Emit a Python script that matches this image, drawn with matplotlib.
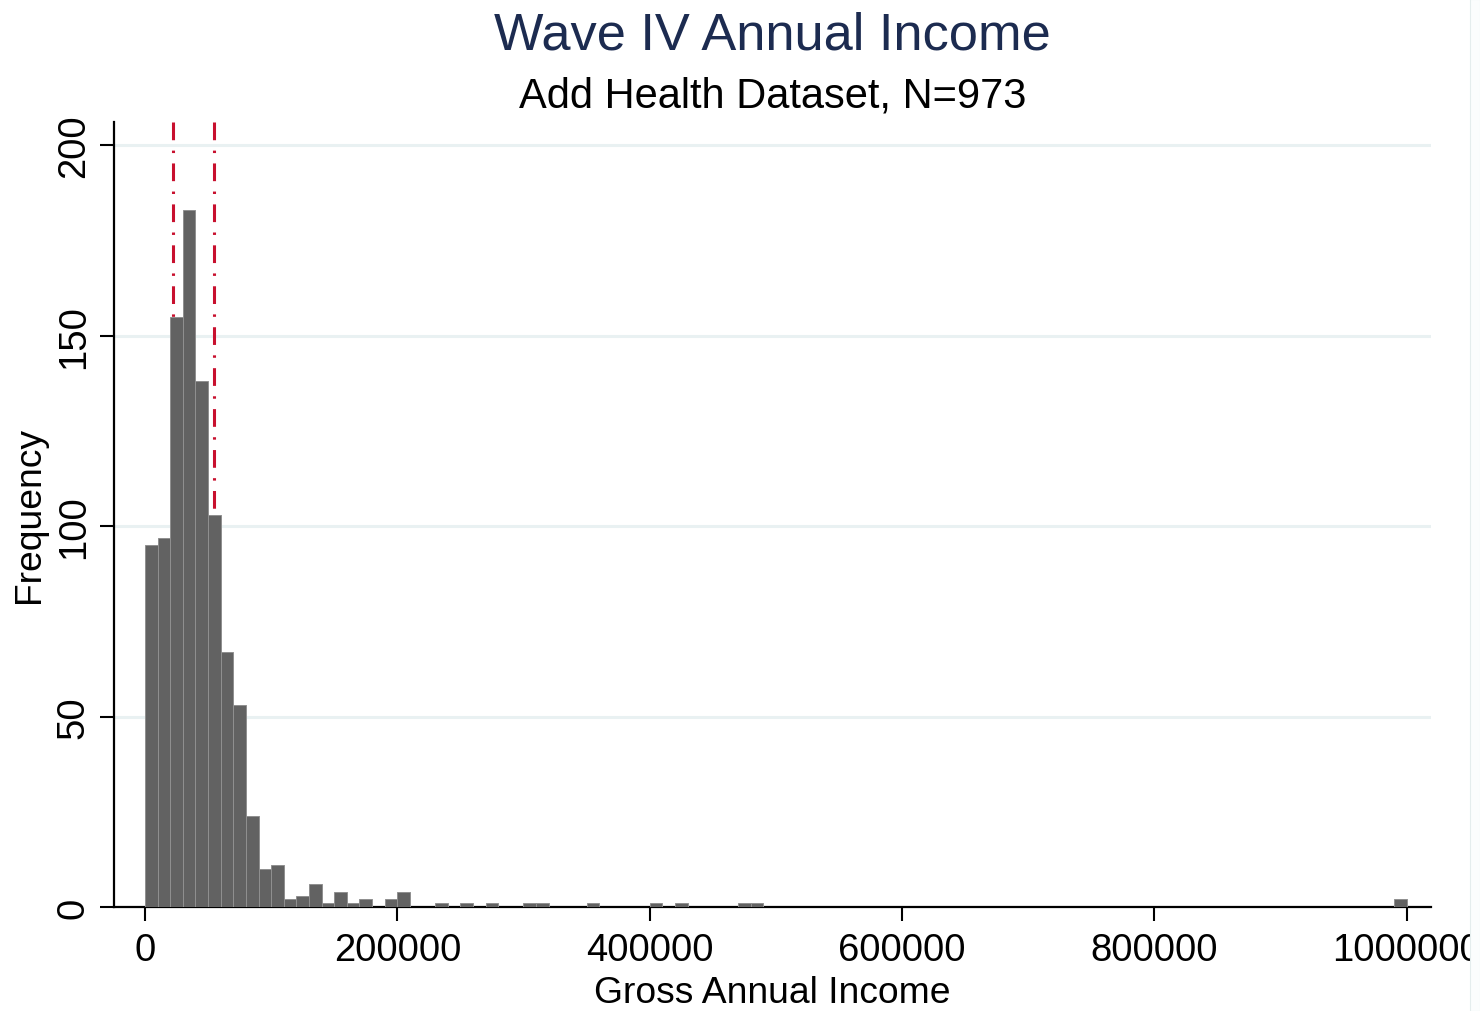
import numpy as np
import matplotlib
matplotlib.use("Agg")
import matplotlib.pyplot as plt
from matplotlib.patches import Rectangle

# Histogram of gross annual income: bins of width 10,000 (only non-empty bins listed)
bin_width = 10000
bin_index = [0, 1, 2, 3, 4, 5, 6, 7, 8, 9, 10, 11, 12, 13, 14, 15, 16, 17, 19, 20,
             23, 25, 27, 30, 31, 35, 40, 42, 47, 48, 99]
bin_counts = [95, 97, 155, 183, 138, 103, 67, 53, 24, 10, 11, 2, 3, 6, 1, 4, 1, 2, 2, 4,
              1, 1, 1, 1, 1, 1, 1, 1, 1, 1, 2]

# Reference lines (lower and upper quartile of income)
quartiles = [22500, 54500]

yticks = [0, 50, 100, 150, 200]
xticks = [0, 200000, 400000, 600000, 800000, 1000000]

plt.rcParams['font.family'] = ['Liberation Sans', 'DejaVu Sans']

fig = plt.figure(figsize=(14.8, 10.12), dpi=100)
ax = fig.add_axes([0.0770, 0.1028, 0.8899, 0.7760])

bin_starts = np.array(bin_index) * bin_width
ax.bar(bin_starts, bin_counts, width=bin_width, align='edge',
       color='#626262', edgecolor='#909090', linewidth=0.7, zorder=3)

ymax = 206.2
for q in quartiles:
    ax.plot([q, q], [ymax, 0], color='#c8102e', linewidth=2.2,
            linestyle=(0, (5.8, 3.4, 0.8, 3.4)), zorder=2,
            dash_capstyle='butt')

ax.set_xlim(-24600, 1019300)
ax.set_ylim(0, ymax)

ax.set_yticks(yticks)
ax.set_xticks(xticks)
ax.set_yticklabels([str(v) for v in yticks], rotation=90, va='center')
ax.set_xticklabels([str(v) for v in xticks])

ax.yaxis.grid(True, color='#e9f1f2', linewidth=2.2, zorder=0)
ax.set_axisbelow(True)

for side in ['top', 'right']:
    ax.spines[side].set_visible(False)
for side in ['left', 'bottom']:
    ax.spines[side].set_linewidth(1.6)
    ax.spines[side].set_color('black')

ax.tick_params(axis='both', direction='out', length=10, width=1.5,
               labelsize=27.5, colors='black')
ax.tick_params(axis='x', pad=8)
ax.tick_params(axis='y', pad=6)

ax.set_xlabel('Gross Annual Income', fontsize=26.8, labelpad=5)
ax.set_ylabel('Frequency', fontsize=26.8, labelpad=6)

fig.text(0.5219, 0.964, 'Wave IV Annual Income', ha='center', va='center',
         fontsize=37.7, color='#1c2b50')
fig.text(0.5219, 0.905, 'Add Health Dataset, N=973', ha='center', va='center',
         fontsize=30, color='black')

# Narrow pale margin strip on the right edge of the canvas
fig.patches.append(Rectangle((1470 / 1480, 0), 10 / 1480, 1, transform=fig.transFigure,
                             facecolor='#fbfdfd', edgecolor='#e4eded', linewidth=0.8,
                             zorder=20))

fig.savefig('out.png', dpi=100, facecolor='white')
